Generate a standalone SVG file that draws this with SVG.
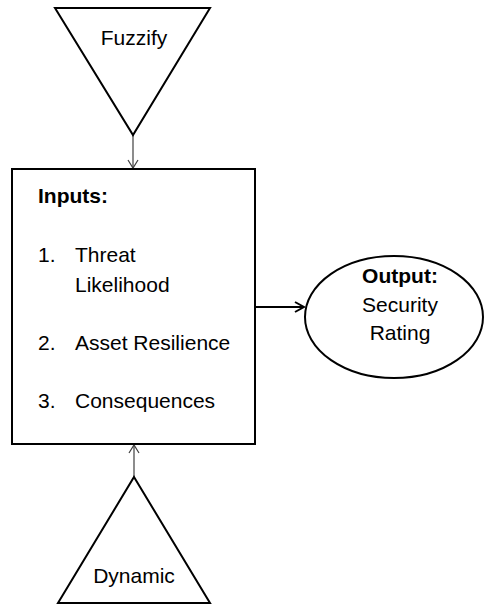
<svg xmlns="http://www.w3.org/2000/svg" width="485" height="607" viewBox="0 0 485 607">
<style>
.shape{fill:#fff;stroke:#000;stroke-width:2}
.t{font-family:"Liberation Sans",Arial,sans-serif;font-size:21px;fill:#000}
.b{font-weight:bold}
.thin{stroke:#404040;stroke-width:1.2;fill:none}
.thick{stroke:#000;stroke-width:2;fill:none}
</style>
<defs>
<marker id="ah" markerWidth="12" markerHeight="12" refX="10" refY="6" orient="auto" markerUnits="userSpaceOnUse">
<path d="M2,1 L10,6 L2,11" fill="none" stroke="#404040" stroke-width="1.2"/>
</marker>
<marker id="ah2" markerWidth="14" markerHeight="14" refX="12" refY="7" orient="auto" markerUnits="userSpaceOnUse">
<path d="M3,2 L12,7 L3,12" fill="none" stroke="#000" stroke-width="2"/>
</marker>
</defs>
<g id="connectors">
<line class="thin" x1="133" y1="135" x2="133" y2="168" marker-end="url(#ah)"/>
<line class="thin" x1="134" y1="477" x2="134" y2="445" marker-end="url(#ah)"/>
<line class="thick" x1="256" y1="307" x2="304" y2="307" marker-end="url(#ah2)"/>
</g>
<g id="fuzzify">
<polygon class="shape" points="55,8 210,8 133,135"/>
<text class="t" x="134" y="45" text-anchor="middle">Fuzzify</text>
</g>
<g id="inputs">
<rect class="shape" x="12" y="169" width="243" height="275"/>
<text class="t b" x="38" y="203">Inputs:</text>
<text class="t" x="38" y="262">1.</text>
<text class="t" x="75" y="262">Threat</text>
<text class="t" x="75" y="292">Likelihood</text>
<text class="t" x="38" y="350">2.</text>
<text class="t" x="75" y="350">Asset Resilience</text>
<text class="t" x="38" y="408">3.</text>
<text class="t" x="75" y="408">Consequences</text>
</g>
<g id="output">
<ellipse class="shape" cx="394" cy="317" rx="89" ry="61"/>
<text class="t b" x="400" y="283" text-anchor="middle">Output:</text>
<text class="t" x="400" y="312" text-anchor="middle">Security</text>
<text class="t" x="400" y="340" text-anchor="middle">Rating</text>
</g>
<g id="dynamic">
<polygon class="shape" points="134,477 210,603 58,603"/>
<text class="t" x="134" y="583" text-anchor="middle">Dynamic</text>
</g>
</svg>
